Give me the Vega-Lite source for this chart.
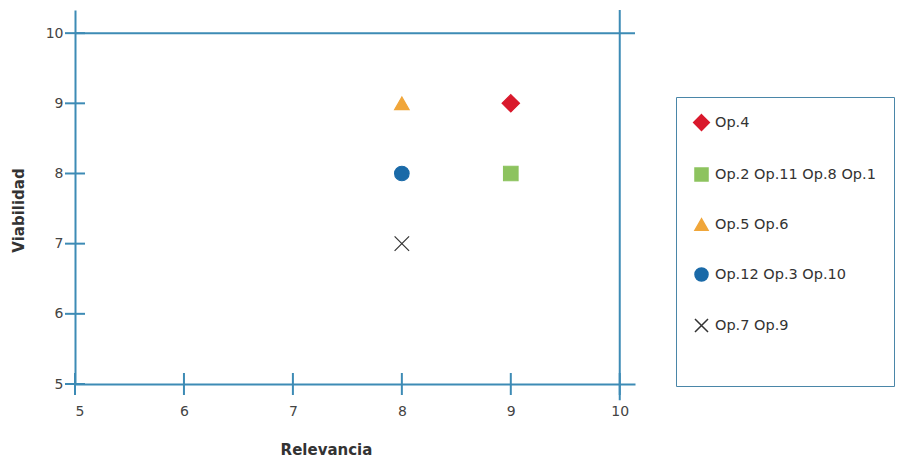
{
  "$schema": "https://vega.github.io/schema/vega-lite/v6.json",
  "autosize": {"type": "none"},
  "padding": {"left": 75, "top": 10, "right": 270, "bottom": 85},
  "width": 560,
  "height": 374,
  "background": "white",
  "config": {
    "view": {"stroke": null},
    "axis": {
      "domainColor": "#3d8bb5",
      "domainWidth": 2,
      "ticks": false,
      "tickSize": 0,
      "grid": false,
      "labelColor": "#444444",
      "labelFont": "DejaVu Sans",
      "labelFontSize": 14,
      "titleFont": "DejaVu Sans",
      "titleFontSize": 15,
      "titleFontWeight": "bold",
      "titleColor": "#333333",
      "format": "d"
    }
  },
  "layer": [
    {
      "data": {"values": [
        {"x": 5, "y": 5}, {"x": 5, "y": 6}, {"x": 5, "y": 7}, {"x": 5, "y": 8}, {"x": 5, "y": 9}, {"x": 5, "y": 10}
      ]},
      "mark": {"type": "tick", "orient": "horizontal", "color": "#3d8bb5", "size": 20, "thickness": 2, "opacity": 1},
      "encoding": {
        "x": {"field": "x", "type": "quantitative"},
        "y": {"field": "y", "type": "quantitative"}
      }
    },
    {
      "data": {"values": [
        {"x": 5, "y": 5}, {"x": 6, "y": 5}, {"x": 7, "y": 5}, {"x": 8, "y": 5}, {"x": 9, "y": 5}, {"x": 10, "y": 5}
      ]},
      "mark": {"type": "tick", "orient": "vertical", "color": "#3d8bb5", "size": 22, "thickness": 2, "opacity": 1},
      "encoding": {
        "x": {"field": "x", "type": "quantitative"},
        "y": {"field": "y", "type": "quantitative"}
      }
    },
    {
      "data": {"values": [
        {"x": 5, "x2": 10.14, "y": 10, "y2": 10},
        {"x": 10, "x2": 10, "y": 4.77, "y2": 10.33}
      ]},
      "mark": {"type": "rule", "color": "#3d8bb5", "strokeWidth": 2},
      "encoding": {
        "x": {"field": "x", "type": "quantitative"},
        "x2": {"field": "x2"},
        "y": {"field": "y", "type": "quantitative"},
        "y2": {"field": "y2"}
      }
    },
    {
      "data": {"values": [
        {"relevancia": 9, "viabilidad": 9, "grupo": "Op.4"},
        {"relevancia": 9, "viabilidad": 8, "grupo": "Op.2 Op.11 Op.8 Op.1"},
        {"relevancia": 8, "viabilidad": 9, "grupo": "Op.5 Op.6"},
        {"relevancia": 8, "viabilidad": 8, "grupo": "Op.12 Op.3 Op.10"},
        {"relevancia": 8, "viabilidad": 7, "grupo": "Op.7 Op.9"}
      ]},
      "mark": {"type": "point", "filled": true, "size": 210, "opacity": 1, "strokeWidth": 1.2},
      "encoding": {
        "x": {
          "field": "relevancia", "type": "quantitative",
          "scale": {"domain": [5, 10.14], "nice": false, "zero": false},
          "axis": {"values": [5, 6, 7, 8, 9, 10], "labelPadding": 20, "title": "Relevancia", "titlePadding": 24, "titleX": 251, "titleAnchor": null}
        },
        "y": {
          "field": "viabilidad", "type": "quantitative",
          "scale": {"domain": [5, 10.33], "nice": false, "zero": false},
          "axis": {"values": [5, 6, 7, 8, 9, 10], "labelPadding": 12, "title": "Viabilidad", "titleX": -57, "titleY": 200, "titleBaseline": "middle", "titleAnchor": null}
        },
        "color": {
          "field": "grupo", "type": "nominal",
          "scale": {
            "domain": ["Op.4", "Op.2 Op.11 Op.8 Op.1", "Op.5 Op.6", "Op.12 Op.3 Op.10", "Op.7 Op.9"],
            "range": ["#d9192c", "#8dc35f", "#f0a63a", "#1a6aa8", "#333333"]
          },
          "legend": {
            "title": " ",
            "titleOrient": "bottom",
            "titleFontSize": 22,
            "titlePadding": 12,
            "orient": "none",
            "legendX": 601,
            "legendY": 87,
            "padding": 18,
            "strokeColor": "#4a86a8",
            "fillColor": "white",
            "labelFont": "DejaVu Sans",
            "labelFontSize": 14.5,
            "labelColor": "#333333",
            "labelOffset": 6,
            "labelLimit": 300,
            "symbolSize": 170,
            "symbolStrokeWidth": 1.5,
            "rowPadding": 30
          }
        },
        "stroke": {
          "field": "grupo", "type": "nominal",
          "scale": {
            "domain": ["Op.4", "Op.2 Op.11 Op.8 Op.1", "Op.5 Op.6", "Op.12 Op.3 Op.10", "Op.7 Op.9"],
            "range": ["#d9192c", "#8dc35f", "#f0a63a", "#1a6aa8", "#333333"]
          }
        },
        "shape": {
          "field": "grupo", "type": "nominal",
          "scale": {
            "domain": ["Op.4", "Op.2 Op.11 Op.8 Op.1", "Op.5 Op.6", "Op.12 Op.3 Op.10", "Op.7 Op.9"],
            "range": ["M0,-1.2L1.2,0L0,1.2L-1.2,0Z", "square", "triangle-up", "circle", "M-1,-1L1,1M-1,1L1,-1"]
          }
        }
      }
    }
  ]
}
